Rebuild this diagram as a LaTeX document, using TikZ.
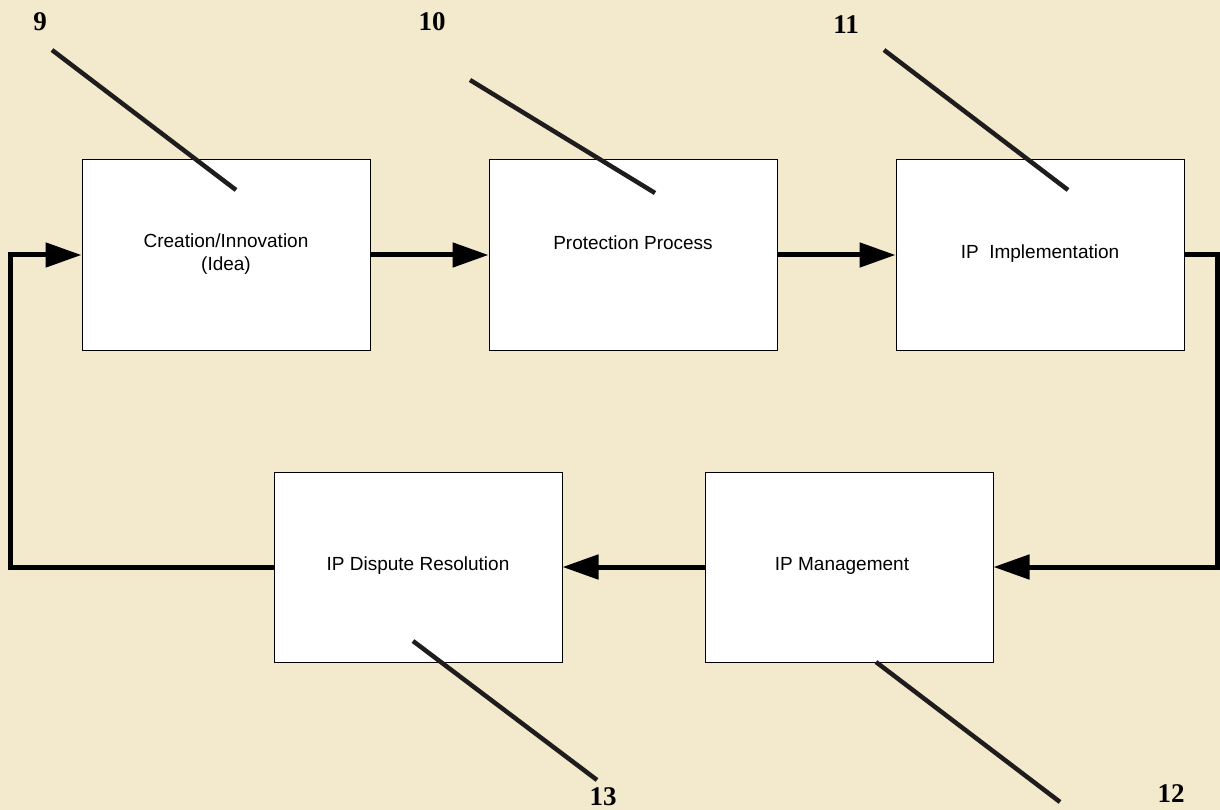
\documentclass[tikz,border=0pt]{standalone}
\usepackage{fontspec}
\setmainfont{Liberation Serif}
\newfontfamily\boxfont{Liberation Sans}
\usetikzlibrary{arrows.meta}
\definecolor{paper}{RGB}{243,233,205}
\definecolor{ink}{RGB}{30,28,28}
\begin{document}
\begin{tikzpicture}[x=1pt,y=-1pt,
  stepbox/.style={draw=black,line width=1pt,fill=white,minimum width=288pt,minimum height=190pt,inner sep=0pt,font=\boxfont\fontsize{19}{23}\selectfont,align=center},
  flow/.style={line width=5pt,black,-{Triangle[length=36pt,width=24pt]}},
  callout/.style={line width=4.5pt,ink},
  num/.style={font=\fontsize{27}{30}\selectfont\bfseries,inner sep=0pt}]
\fill[paper] (0,0) rectangle (1220,810);
\useasboundingbox (0,0) rectangle (1220,810);
\node[stepbox] (b1) at (226,255) {};
\node[stepbox] (b2) at (633,255) {};
\node[stepbox] (b3) at (1040,255) {};
\node[stepbox] (b4) at (418,567) {};
\node[stepbox] (b5) at (849,567) {};
\node[font=\boxfont\fontsize{19}{23}\selectfont,align=center] (t1) at (226,254) {Creation/Innovation\\(Idea)};
\node[font=\boxfont\fontsize{19}{23}\selectfont] (t2) at (633,243) {Protection Process};
\node[font=\boxfont\fontsize{19}{23}\selectfont] (t3) at (1040,254) {IP\ \ Implementation};
\node[font=\boxfont\fontsize{19}{23}\selectfont] (t4) at (418,566) {IP Dispute Resolution};
\node[font=\boxfont\fontsize{19}{23}\selectfont] (t5) at (842,566) {IP Management};
\coordinate (r1) at (1217,255);
\coordinate (r2) at (1217,567);
\coordinate (l1) at (10,567);
\coordinate (l2) at (10,255);
\draw[flow] (b1.east) -- (b2.west);
\draw[flow] (b2.east) -- (b3.west);
\draw[flow,line join=miter] (b3.east) -- (r1) -- (r2) -- (b5.east);
\draw[flow] (b5.west) -- (b4.east);
\draw[flow,line join=miter] (b4.west) -- (l1) -- (l2) -- (b1.west);
\node[num] (n9) at (40,22) {9};
\node[num] (n10) at (432,22) {10};
\node[num] (n11) at (846,25) {11};
\node[num] (n12) at (1171,794) {12};
\node[num] (n13) at (603,797) {13};
\coordinate (c9a) at (52,50); \coordinate (c9b) at (236,190);
\coordinate (c10a) at (470,80); \coordinate (c10b) at (655,193);
\coordinate (c11a) at (884,50); \coordinate (c11b) at (1068,190);
\coordinate (c12a) at (876,662); \coordinate (c12b) at (1060,802);
\coordinate (c13a) at (413,641); \coordinate (c13b) at (597,780);
\draw[callout] (c9a) -- (c9b);
\draw[callout] (c10a) -- (c10b);
\draw[callout] (c11a) -- (c11b);
\draw[callout] (c12a) -- (c12b);
\draw[callout] (c13a) -- (c13b);
\end{tikzpicture}
\end{document}
